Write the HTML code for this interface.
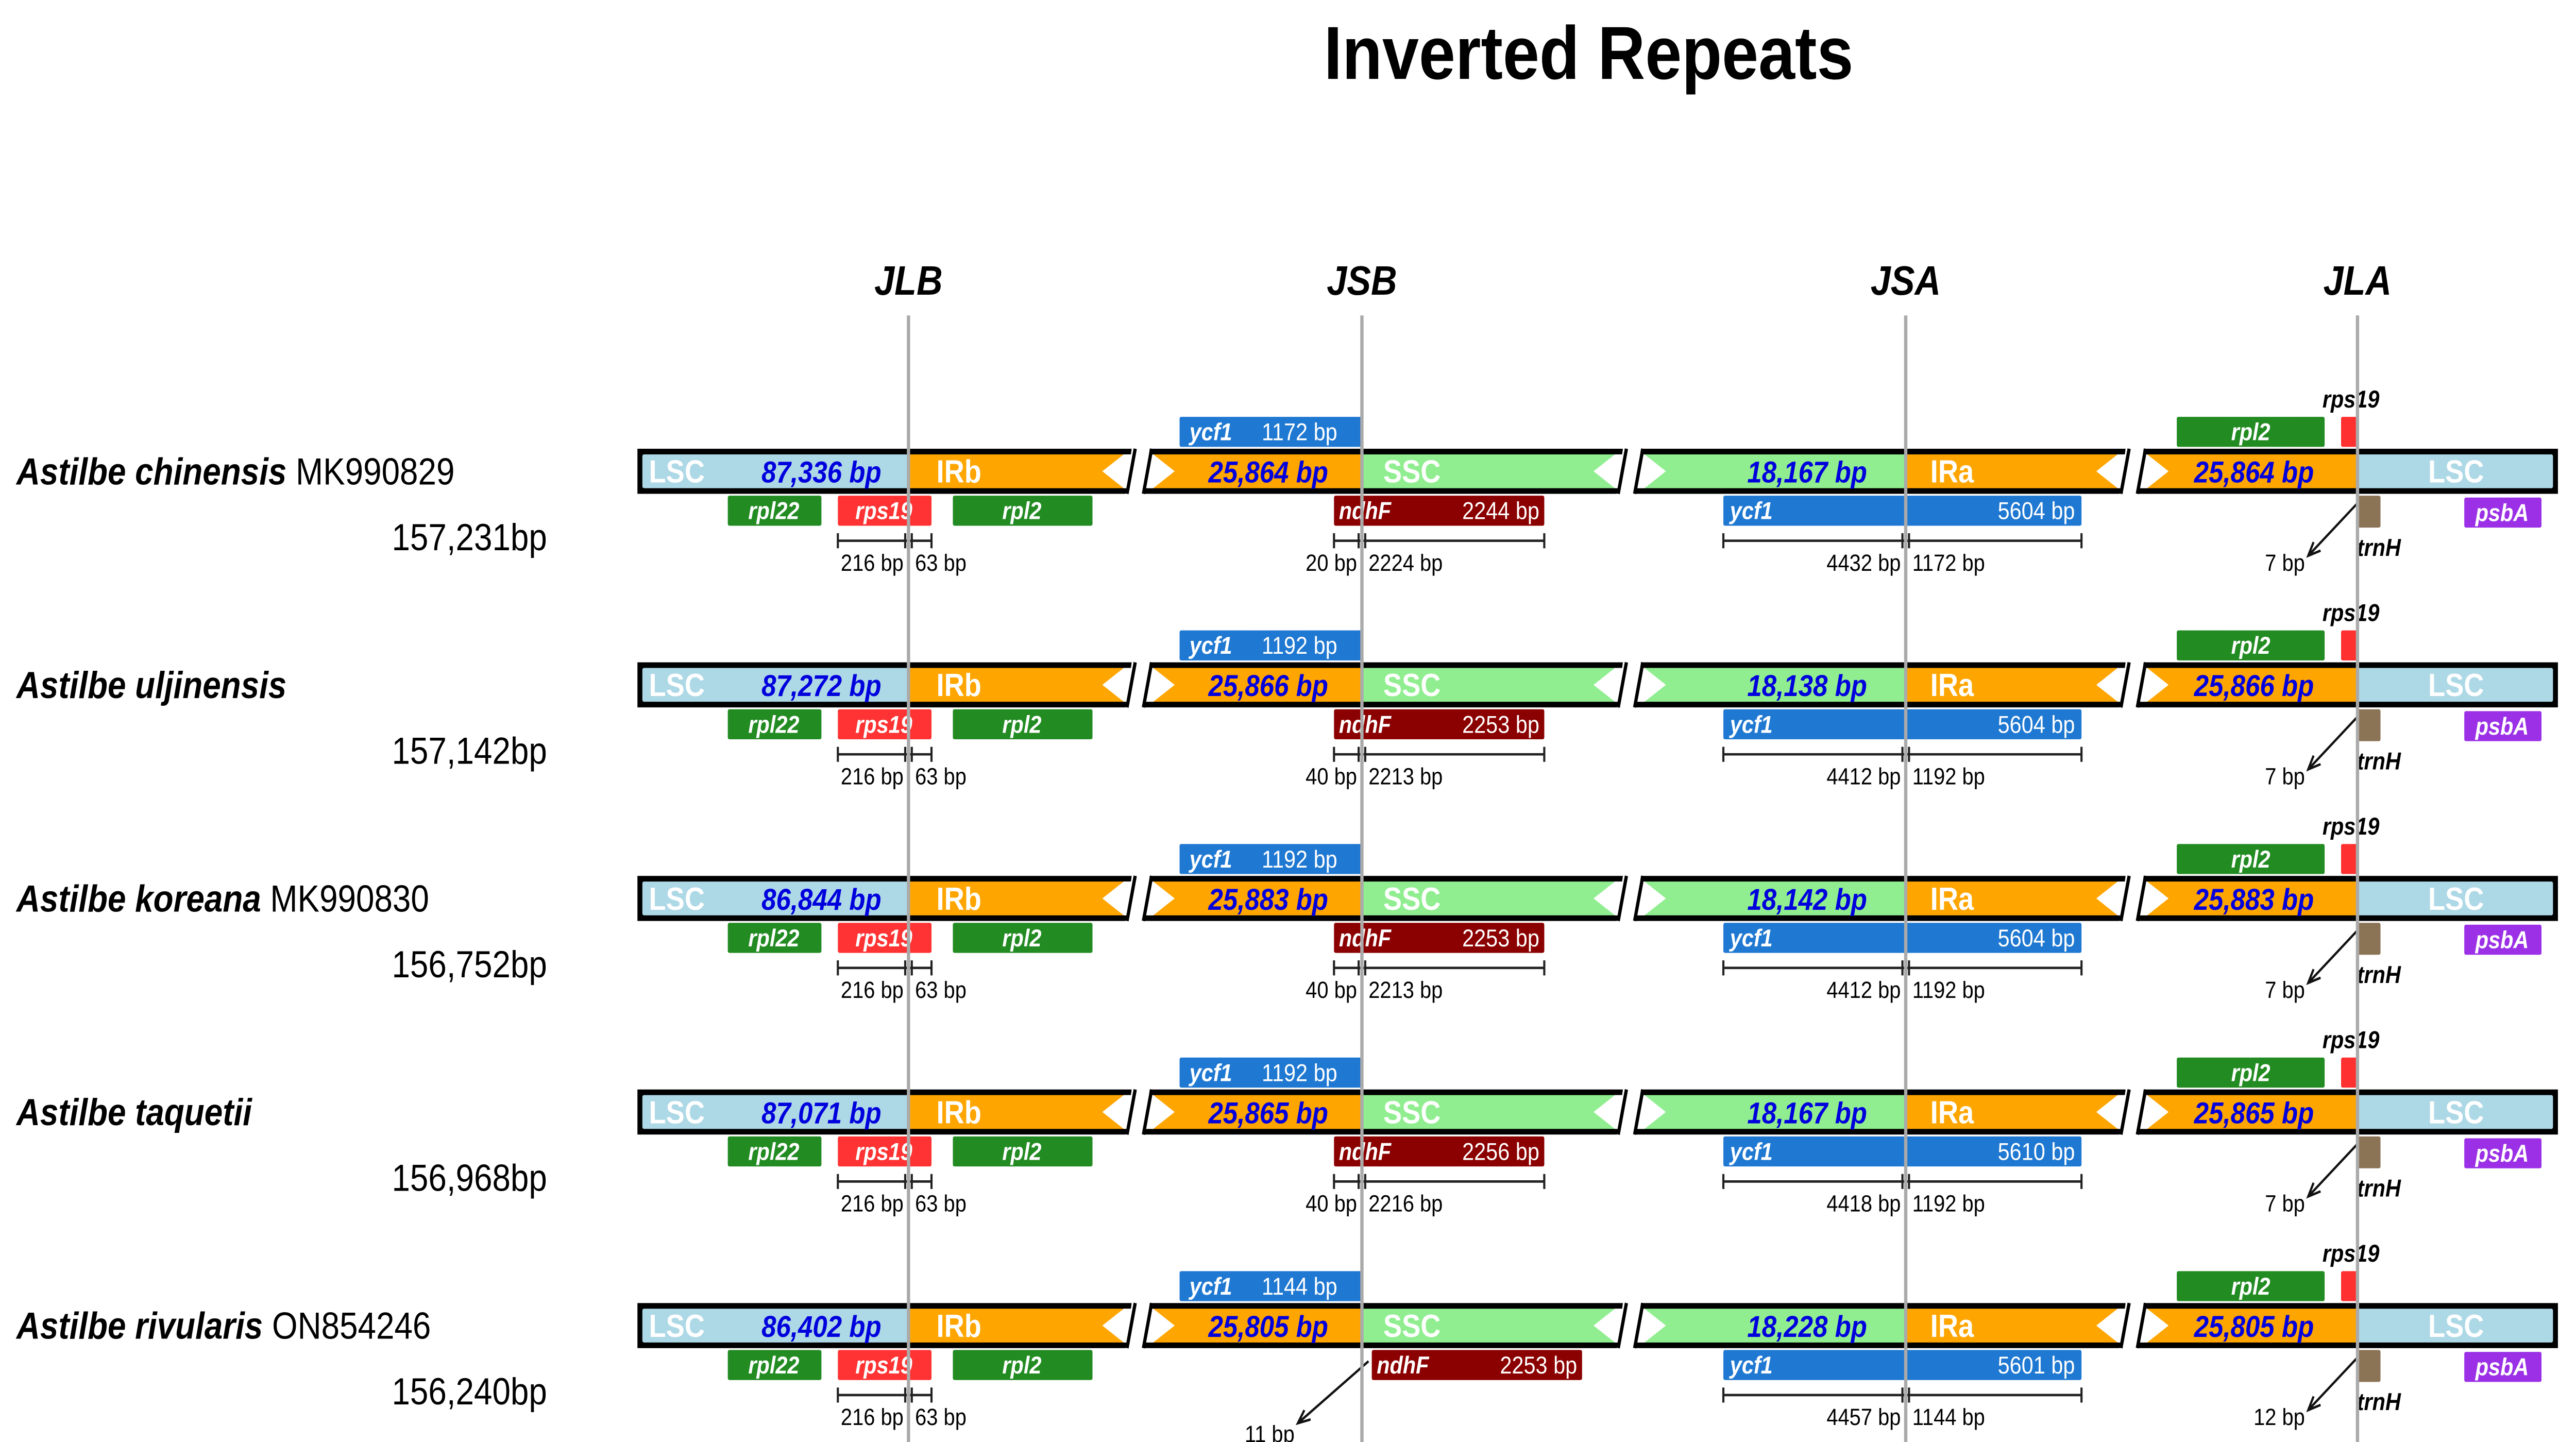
<!DOCTYPE html>
<html><head><meta charset="utf-8"><style>
html,body{margin:0;padding:0;background:#fff;overflow:hidden;width:100vw;height:100vh;}
svg{display:block;width:100vw;height:100vh;}
text{font-family:"Liberation Sans",Arial,sans-serif;}
</style></head><body>
<svg id="chart" xmlns="http://www.w3.org/2000/svg" viewBox="0 0 1568 768" preserveAspectRatio="none">
<rect x="0" y="0" width="1568" height="768" fill="#fff"/>
<text x="967" y="42" text-anchor="middle" font-size="40" font-weight="bold">Inverted Repeats</text>
<g id="junctions"></g>
<g id="rows"></g>
</svg>
<script>
const junctionNames = ["JLB","JSB","JSA","JLA"];
const speciesNames = ["Astilbe chinensis","Astilbe uljinensis","Astilbe koreana","Astilbe taquetii","Astilbe rivularis"];
const accessions = ["MK990829","","MK990830","","ON854246"];
const genomeSizes = ["157,231bp","157,142bp","156,752bp","156,968bp","156,240bp"];
const lscSizes = ["87,336 bp","87,272 bp","86,844 bp","87,071 bp","86,402 bp"];
const irSizes = ["25,864 bp","25,866 bp","25,883 bp","25,865 bp","25,805 bp"];
const sscSizes = ["18,167 bp","18,138 bp","18,142 bp","18,167 bp","18,228 bp"];
const ycf1TopLen = ["1172 bp","1192 bp","1192 bp","1192 bp","1144 bp"];
const ndhFLen = ["2244 bp","2253 bp","2253 bp","2256 bp","2253 bp"];
const ndhFLeft = ["20 bp","40 bp","40 bp","40 bp","11 bp"];
const ndhFRight = ["2224 bp","2213 bp","2213 bp","2216 bp",""];
const ycf1Len = ["5604 bp","5604 bp","5604 bp","5610 bp","5601 bp"];
const ycf1Left = ["4432 bp","4412 bp","4412 bp","4418 bp","4457 bp"];
const ycf1Right = ["1172 bp","1192 bp","1192 bp","1192 bp","1144 bp"];
const trnHGap = ["7 bp","7 bp","7 bp","7 bp","12 bp"];
const ndhFCrossesJSB = [true,true,true,true,false];

const NS="http://www.w3.org/2000/svg";
const JX=[553,829,1160,1435];
const ROW0=239, ROWSTEP=113.75, BH=24;
function el(tag,attrs,parent,text){
  const e=document.createElementNS(NS,tag);
  for(const k in attrs) e.setAttribute(k,attrs[k]);
  if(text!==undefined) e.textContent=text;
  parent.appendChild(e); return e;
}
const jg=document.getElementById('junctions');
junctionNames.forEach((n,i)=>{
  const t=el('text',{x:JX[i],y:157,'text-anchor':'middle','font-size':22,'font-weight':'bold','font-style':'italic'},jg,n);
  
  
});
const rg=document.getElementById('rows');
function gene(g,x,y,w,h,fill,name){
  const r=el('rect',{x:x,y:y,width:w,height:h,fill:fill,rx:1},g);
  
  
  return r;
}
function txt(g,x,y,s,size,opts,name){
  const a=Object.assign({x:x,y:y,'font-size':size},opts||{});
  const t=el('text',a,g,s);
  
  
  return t;
}
function scaleBar(g,x1,xm,x2,y,l,r,name){
  const p=el('path',{d:`M${x1},${y}H${x2}M${x1},${y-4}V${y+4}M${x2},${y-4}V${y+4}M${xm-2},${y-4}V${y+4}M${xm+2},${y-4}V${y+4}`,stroke:'#222','stroke-width':1.3,fill:'none'},g);
  
  
  txt(g,xm-3,y+16,l,12.5,{'text-anchor':'end'},name+'-left-label');
  txt(g,xm+4,y+16,r,12.5,{},name+'-right-label');
}
function arrow(g,x1,y1,x2,y2,name){
  const ang=Math.atan2(y2-y1,x2-x1);
  const a1=ang+Math.PI-0.4, a2=ang+Math.PI+0.4;
  const p=el('path',{d:`M${x1},${y1}L${x2},${y2}M${x2+8*Math.cos(a1)},${y2+8*Math.sin(a1)}L${x2},${y2}L${x2+8*Math.cos(a2)},${y2+8*Math.sin(a2)}`,stroke:'#111','stroke-width':1.3,fill:'none'},g);
  
  
}
const GAPS=[693,992,1298];
speciesNames.forEach((sp,i)=>{
  const y=ROW0+i*ROWSTEP, yb=y+BH, mid=y+BH/2;
  const g=el('g',{},rg);
  
  
  const t=el('text',{x:10,y:mid+7,'font-size':20},g);
  
  
  el('tspan',{'font-weight':'bold','font-style':'italic'},t,sp);
  if(accessions[i]) el('tspan',{},t,' '+accessions[i]);
  txt(g,333,mid+42,genomeSizes[i],20,{'text-anchor':'end'},'genome-size');
  const bo=el('rect',{x:388,y:y,width:1169,height:BH,fill:'#000'},g);
  
  
  const iy=y+3, ih=BH-6;
  gene(g,391,iy,JX[0]-391,ih,'#add8e6','lsc-region-left');
  gene(g,JX[0],iy,JX[1]-JX[0],ih,'#ffa500','irb-region');
  gene(g,JX[1],iy,JX[2]-JX[1],ih,'#90ee90','ssc-region');
  gene(g,JX[2],iy,JX[3]-JX[2],ih,'#ffa500','ira-region');
  gene(g,JX[3],iy,1554-JX[3],ih,'#add8e6','lsc-region-right');
  GAPS.forEach((gx,k)=>{
    const w=el('polygon',{points:`${gx-22},${mid} ${gx-9},${iy} ${gx+9},${iy} ${gx+22},${mid} ${gx+9},${iy+ih} ${gx-9},${iy+ih}`,fill:'#fff'},g);
    
    
    const c=el('polygon',{points:`${gx-4},${y-1} ${gx+7},${y-1} ${gx+3},${yb+1} ${gx-8},${yb+1}`,fill:'#fff'},g);
    
    
    const l=el('path',{d:`M${gx-2},${y}L${gx-7},${yb}M${gx+8},${y}L${gx+3},${yb}`,stroke:'#000','stroke-width':2},g);
    
    
  });
  const wb={fill:'#fff','font-weight':'bold'};
  txt(g,395,mid+6,'LSC',17,wb,'lsc-label');
  txt(g,500,mid+6,lscSizes[i],16,{fill:'#0000dd','font-weight':'bold','font-style':'italic','text-anchor':'middle'},'lsc-size');
  txt(g,570,mid+6,'IRb',17,wb,'irb-label');
  txt(g,772,mid+6,irSizes[i],16,{fill:'#0000dd','font-weight':'bold','font-style':'italic','text-anchor':'middle'},'irb-size');
  txt(g,842,mid+6,'SSC',17,wb,'ssc-label');
  txt(g,1100,mid+6,sscSizes[i],16,{fill:'#0000dd','font-weight':'bold','font-style':'italic','text-anchor':'middle'},'ssc-size');
  txt(g,1175,mid+6,'IRa',17,wb,'ira-label');
  txt(g,1372,mid+6,irSizes[i],16,{fill:'#0000dd','font-weight':'bold','font-style':'italic','text-anchor':'middle'},'ira-size');
  txt(g,1495,mid+6,'LSC',17,Object.assign({'text-anchor':'middle'},wb),'lsc-label-right');
  const ga=y-17, gbY=yb+1, gh=16;
  gene(g,718,ga,JX[1]-718,gh,'#1f78d1','ycf1-upper');
  txt(g,724,ga+12.5,'ycf1',13,{fill:'#fff','font-style':'italic','font-weight':'bold'},'ycf1-upper-label');
  txt(g,768,ga+12.5,ycf1TopLen[i],13,{fill:'#fff'},'ycf1-upper-length');
  gene(g,1325,ga,90,gh,'#228b22','rpl2-upper');
  txt(g,1370,ga+12.5,'rpl2',13,{fill:'#fff','font-style':'italic','font-weight':'bold','text-anchor':'middle'},'rpl2-upper-label');
  gene(g,1425,ga,JX[3]-1425,gh,'#ff3030','rps19-upper');
  txt(g,1431,ga-5,'rps19',13,{'font-style':'italic','font-weight':'bold','text-anchor':'middle'},'rps19-upper-label');
  gene(g,443,gbY,57,gh,'#228b22','rpl22-gene');
  txt(g,471,gbY+12.5,'rpl22',13,{fill:'#fff','font-style':'italic','font-weight':'bold','text-anchor':'middle'},'rpl22-label');
  gene(g,510,gbY,57,gh,'#ff3333','rps19-gene');
  txt(g,538,gbY+12.5,'rps19',13,{fill:'#fff','font-style':'italic','font-weight':'bold','text-anchor':'middle'},'rps19-label');
  gene(g,580,gbY,85,gh,'#228b22','rpl2-gene');
  txt(g,622,gbY+12.5,'rpl2',13,{fill:'#fff','font-style':'italic','font-weight':'bold','text-anchor':'middle'},'rpl2-label');
  const nx=ndhFCrossesJSB[i]?812:835;
  gene(g,nx,gbY,128,gh,'#8b0000','ndhF-gene');
  txt(g,nx+3,gbY+12.5,'ndhF',13,{fill:'#fff','font-style':'italic','font-weight':'bold'},'ndhF-label');
  txt(g,nx+125,gbY+12.5,ndhFLen[i],13,{fill:'#fff','text-anchor':'end'},'ndhF-length');
  gene(g,1049,gbY,218,gh,'#1f78d1','ycf1-gene');
  txt(g,1053,gbY+12.5,'ycf1',13,{fill:'#fff','font-style':'italic','font-weight':'bold'},'ycf1-label');
  txt(g,1263,gbY+12.5,ycf1Len[i],13,{fill:'#fff','text-anchor':'end'},'ycf1-length');
  gene(g,JX[3],gbY,14,17,'#8b7355','trnH-gene');
  txt(g,1448,gbY+32,'trnH',13,{'font-style':'italic','font-weight':'bold','text-anchor':'middle'},'trnH-label');
  gene(g,1500,gbY+1,47,gh,'#9b30e6','psbA-gene');
  txt(g,1523,gbY+13.5,'psbA',13,{fill:'#fff','font-style':'italic','font-weight':'bold','text-anchor':'middle'},'psbA-label');
  const sy=yb+25;
  scaleBar(g,510,JX[0],567,sy,'216 bp','63 bp','rps19-scale');
  if(ndhFCrossesJSB[i]) scaleBar(g,812,JX[1],940,sy,ndhFLeft[i],ndhFRight[i],'ndhF-scale');
  else { arrow(g,JX[1]+4,gbY+6,790,yb+40,'ndhF-gap-arrow'); txt(g,788,yb+50,ndhFLeft[i],12.5,{'text-anchor':'end'},'ndhF-gap-label'); }
  scaleBar(g,1049,JX[2],1267,sy,ycf1Left[i],ycf1Right[i],'ycf1-scale');
  arrow(g,JX[3],gbY+4,1405,yb+33,'trnH-gap-arrow');
  txt(g,1403,yb+41,trnHGap[i],12.5,{'text-anchor':'end'},'trnH-gap-label');
});
junctionNames.forEach((n,i)=>{
  const l=el('line',{x1:JX[i],y1:168,x2:JX[i],y2:768,stroke:'#aaa','stroke-width':2},jg.parentNode);
  
  
});
</script>
</body></html>
